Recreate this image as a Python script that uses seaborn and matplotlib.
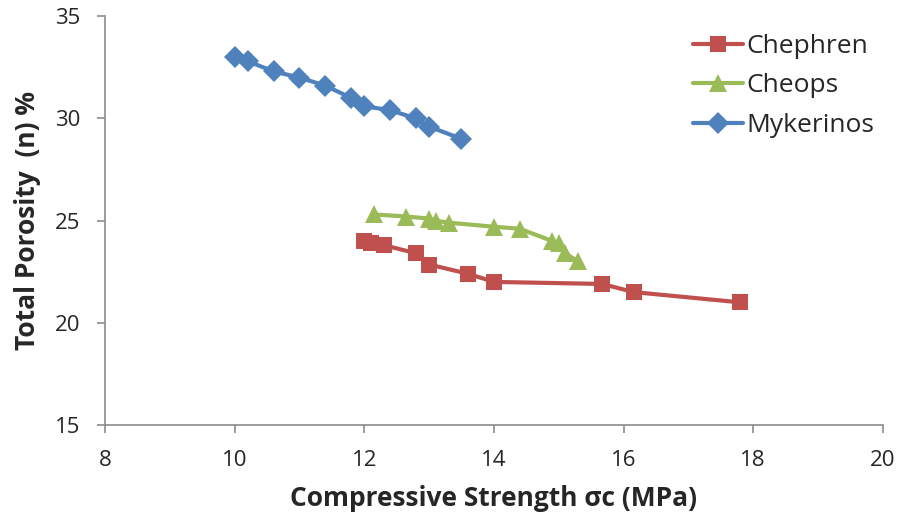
import seaborn as sns
import matplotlib.pyplot as plt
import pandas as pd

# Chephren
chephren_x = [12.0, 12.1, 12.3, 12.8, 13.0, 13.6, 14.0, 15.67, 16.16, 17.8]
chephren_y = [24.0, 23.9, 23.8, 23.4, 22.85, 22.4, 22.0, 21.9, 21.5, 21.0]
# Cheops
cheops_x = [12.15, 12.65, 13.0, 13.1, 13.3, 14.0, 14.4, 14.9, 15.0, 15.1, 15.3]
cheops_y = [25.3, 25.2, 25.1, 25.0, 24.9, 24.7, 24.6, 24.0, 23.9, 23.4, 23.0]
# Mykerinos
myk_x = [10.0, 10.2, 10.6, 11.0, 11.4, 11.8, 12.0, 12.4, 12.8, 13.0, 13.5]
myk_y = [33.0, 32.8, 32.3, 32.0, 31.6, 31.0, 30.6, 30.4, 30.0, 29.6, 29.0]

names = ["Chephren", "Cheops", "Mykerinos"]
colors = {"Chephren": "#C0504D", "Cheops": "#9BBB59", "Mykerinos": "#4F81BD"}
markers = {"Chephren": "s", "Cheops": "^", "Mykerinos": "D"}
msizes = {"Chephren": 12, "Cheops": 13, "Mykerinos": 11}

df = pd.concat([
    pd.DataFrame({"x": chephren_x, "y": chephren_y, "site": "Chephren"}),
    pd.DataFrame({"x": cheops_x, "y": cheops_y, "site": "Cheops"}),
    pd.DataFrame({"x": myk_x, "y": myk_y, "site": "Mykerinos"}),
])

sns.set_style("white")
plt.rcParams["font.family"] = ["Open Sans", "DejaVu Sans"]

fig = plt.figure(figsize=(8.98, 5.24), dpi=100)
ax = fig.add_axes([0.117, 0.189, 0.866, 0.78])

for name in names:
    sub = df[df["site"] == name]
    sns.lineplot(
        data=sub, x="x", y="y", ax=ax, color=colors[name], marker=markers[name],
        markersize=msizes[name], markeredgewidth=0,
        linewidth=3, sort=False, label=name,
    )

ax.set_xlim(8, 20)
ax.set_ylim(15, 35)
ax.set_xticks(range(8, 21, 2))
ax.set_yticks(range(15, 36, 5))
ax.tick_params(direction="out", length=6, width=1.2, color="#8c8c8c",
               labelsize=16, pad=12, left=True, bottom=True)
for s in ["top", "right"]:
    ax.spines[s].set_visible(False)
for s in ["left", "bottom"]:
    ax.spines[s].set_color("#8c8c8c")
    ax.spines[s].set_linewidth(1.2)

ax.set_xlabel("Compressive Strength σc (MPa)", fontsize=19, fontweight="bold", labelpad=10)
ax.set_ylabel("Total Porosity  (n) %", fontsize=19, fontweight="bold", labelpad=10)

ax.legend(loc="upper right", bbox_to_anchor=(1.02, 1.015), frameon=False, fontsize=19,
          handlelength=1.9, handletextpad=0.15, labelspacing=0.55)

fig.savefig("out.png", dpi=100)
